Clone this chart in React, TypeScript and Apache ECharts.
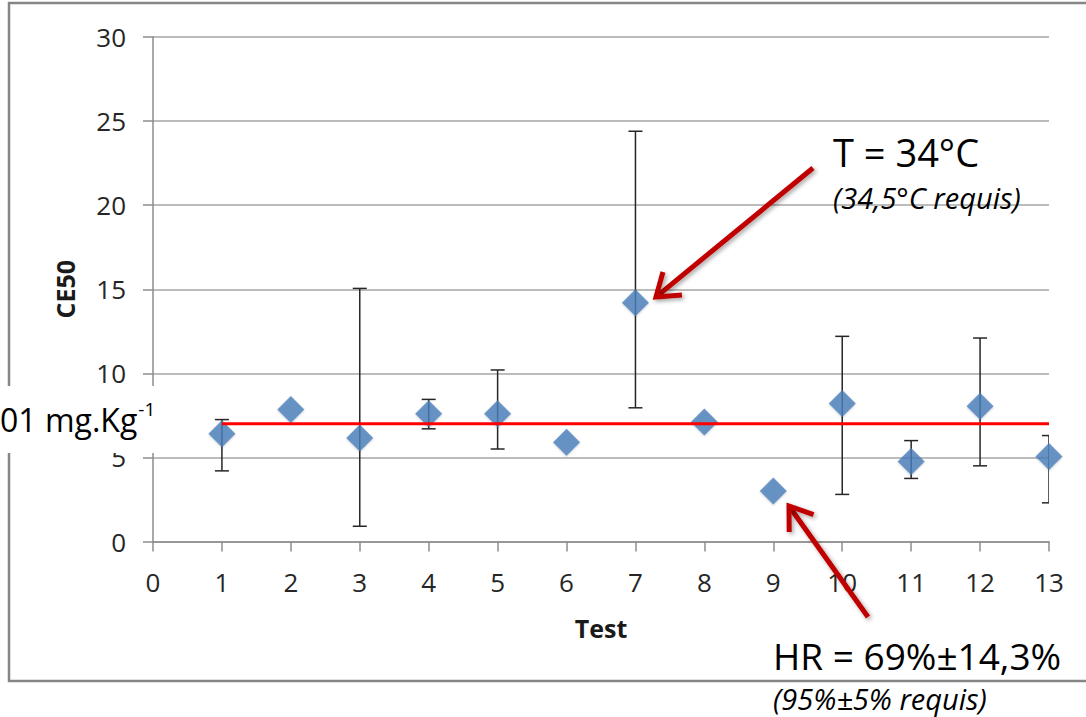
import React, { useEffect, useRef } from "react";
import * as echarts from "echarts";

// ---- data ----
const tests = [1, 2, 3, 4, 5, 6, 7, 8, 9, 10, 11, 12, 13];
const ce50 = [6.4, 7.85, 6.15, 7.6, 7.6, 5.9, 14.2, 7.1, 3.0, 8.2, 4.75, 8.05, 5.05];
const errLow: (number | null)[] = [4.2, null, 0.9, 6.7, 5.5, null, 7.95, null, null, 2.8, 3.75, 4.5, 2.3];
const errHigh: (number | null)[] = [7.25, null, 15.05, 8.45, 10.2, null, 24.4, null, null, 12.2, 6.0, 12.1, 6.3];
const thresholdX = [1, 13];
const thresholdY = [7, 7];

const FONT = "'Open Sans', 'Liberation Sans', sans-serif";
const ARROW = "#c00000";

function measure(text: string, font: string) {
  const c = document.createElement("canvas").getContext("2d")!;
  c.font = font;
  return c.measureText(text).width;
}

function arrowElements(x1: number, y1: number, x2: number, y2: number) {
  const dx = x2 - x1, dy = y2 - y1;
  const len = Math.sqrt(dx * dx + dy * dy);
  const ux = -dx / len, uy = -dy / len;
  const ang = (35 * Math.PI) / 180;
  const L = 26;
  const rot = (a: number) => [ux * Math.cos(a) - uy * Math.sin(a), ux * Math.sin(a) + uy * Math.cos(a)];
  const a1 = rot(ang), a2 = rot(-ang);
  const shadow = { shadowBlur: 4, shadowColor: "rgba(0,0,0,0.35)", shadowOffsetX: 2, shadowOffsetY: 2 };
  return [
    {
      type: "line",
      shape: { x1, y1, x2: x2 + ux * 3, y2: y2 + uy * 3 },
      style: { stroke: ARROW, lineWidth: 5, lineCap: "butt", ...shadow },
      z: 100,
    },
    {
      type: "polyline",
      shape: {
        points: [
          [x2 + a1[0] * L, y2 + a1[1] * L],
          [x2, y2],
          [x2 + a2[0] * L, y2 + a2[1] * L],
        ],
      },
      style: { stroke: ARROW, lineWidth: 5, fill: "none", lineJoin: "miter", ...shadow },
      z: 100,
    },
  ];
}

export default function App() {
  const ref = useRef<HTMLDivElement>(null);
  useEffect(() => {
    document.body.style.margin = "0";
    const chart = echarts.init(ref.current!, null, { renderer: "svg" });
    const scatterData = tests.map((t, i) => [t, ce50[i]]);
    const errData = tests
      .map((t, i) => [t, errLow[i], errHigh[i]])
      .filter((d) => d[1] != null && d[2] != null);
    const lineData = thresholdX.map((x, i) => [x, thresholdY[i]]);

    const unitFont = `32px ${FONT}`;
    const unitW = measure("01 mg.Kg", unitFont);

    chart.setOption({
      animation: false,
      backgroundColor: "#ffffff",
      grid: { left: 153, right: 37, top: 37, bottom: 175.5 },
      xAxis: {
        type: "value",
        min: 0,
        max: 13,
        interval: 1,
        name: "Test",
        nameLocation: "middle",
        nameGap: 74,
        nameTextStyle: { fontFamily: FONT, fontWeight: "bold", fontSize: 25, color: "#1a1a1a" },
        axisLine: { show: true, onZero: false, lineStyle: { color: "#8c8c8c", width: 1.5 } },
        axisTick: { show: true, inside: false, length: 10, lineStyle: { color: "#8c8c8c", width: 1.5 } },
        axisLabel: { fontFamily: FONT, fontSize: 26, color: "#262626", margin: 27 },
        splitLine: { show: false },
      },
      yAxis: {
        type: "value",
        min: 0,
        max: 30,
        interval: 5,
        name: "CE50",
        nameLocation: "middle",
        nameGap: 76,
        nameRotate: 90,
        nameTextStyle: { fontFamily: FONT, fontWeight: "bold", fontSize: 25, color: "#1a1a1a" },
        axisLine: { show: true, lineStyle: { color: "#8c8c8c", width: 1.5 } },
        axisTick: { show: true, inside: false, length: 10, lineStyle: { color: "#8c8c8c", width: 1.5 } },
        axisLabel: { fontFamily: FONT, fontSize: 26, color: "#262626", margin: 27 },
        splitLine: { show: true, lineStyle: { color: "#a6a6a6", width: 1.5 } },
      },
      series: [
        {
          type: "custom",
          clip: true,
          data: errData,
          z: 2,
          renderItem: (params: any, api: any) => {
            const x = api.value(0);
            const lo = api.coord([x, api.value(1)]);
            const hi = api.coord([x, api.value(2)]);
            const cap = 7;
            const style = { stroke: "#262626", lineWidth: 1.5 };
            return {
              type: "group",
              children: [
                { type: "line", shape: { x1: lo[0], y1: lo[1], x2: hi[0], y2: hi[1] }, style },
                { type: "line", shape: { x1: hi[0] - cap, y1: hi[1], x2: hi[0] + cap, y2: hi[1] }, style },
                { type: "line", shape: { x1: lo[0] - cap, y1: lo[1], x2: lo[0] + cap, y2: lo[1] }, style },
              ],
            };
          },
        },
        {
          type: "scatter",
          data: scatterData,
          symbol: "diamond",
          symbolSize: 27,
          z: 3,
          itemStyle: { color: "#4a7ebb", shadowBlur: 2, shadowColor: "rgba(0,0,0,0.25)", shadowOffsetY: 1 },
        },
        {
          type: "line",
          data: lineData,
          symbol: "none",
          z: 4,
          lineStyle: { color: "#ff0000", width: 3 },
        },
      ],
      graphic: [
        {
          type: "rect",
          shape: { x: 9, y: 3, width: 1090, height: 678 },
          style: { fill: "none", stroke: "#868686", lineWidth: 2.5 },
          z: -10,
          silent: true,
        },
        {
          type: "rect",
          shape: { x: 0, y: 386, width: 172, height: 67 },
          style: { fill: "#ffffff" },
          z: 50,
        },
        {
          type: "text",
          x: 0,
          y: 435,
          z: 51,
          style: { text: "01 mg.Kg", font: unitFont, fill: "#000000", textAlign: "left", textVerticalAlign: "bottom" },
        },
        {
          type: "text",
          x: unitW + 1,
          y: 399,
          z: 51,
          style: { text: "-1", font: `19px ${FONT}`, fill: "#000000", textAlign: "left", textVerticalAlign: "top" },
        },
        {
          type: "text",
          x: 833,
          y: 152,
          z: 51,
          style: { text: "T = 34°C", font: `38px ${FONT}`, fill: "#000000", textAlign: "left", textVerticalAlign: "middle" },
        },
        {
          type: "text",
          x: 833,
          y: 197,
          z: 51,
          style: { text: "(34,5°C requis)", font: `italic 29px ${FONT}`, fill: "#000000", textAlign: "left", textVerticalAlign: "middle" },
        },
        {
          type: "text",
          x: 773,
          y: 655,
          z: 51,
          style: { text: "HR = 69%±14,3%", font: `37px ${FONT}`, fill: "#000000", textAlign: "left", textVerticalAlign: "middle" },
        },
        {
          type: "text",
          x: 773,
          y: 698,
          z: 51,
          style: { text: "(95%±5% requis)", font: `italic 29px ${FONT}`, fill: "#000000", textAlign: "left", textVerticalAlign: "middle" },
        },
        ...arrowElements(813, 168, 656, 297),
        ...arrowElements(868, 617, 789, 506),
      ],
    });
    return () => chart.dispose();
  }, []);
  return <div ref={ref} style={{ position: "fixed", left: 0, top: 0, width: 1086, height: 717 }} />;
}
